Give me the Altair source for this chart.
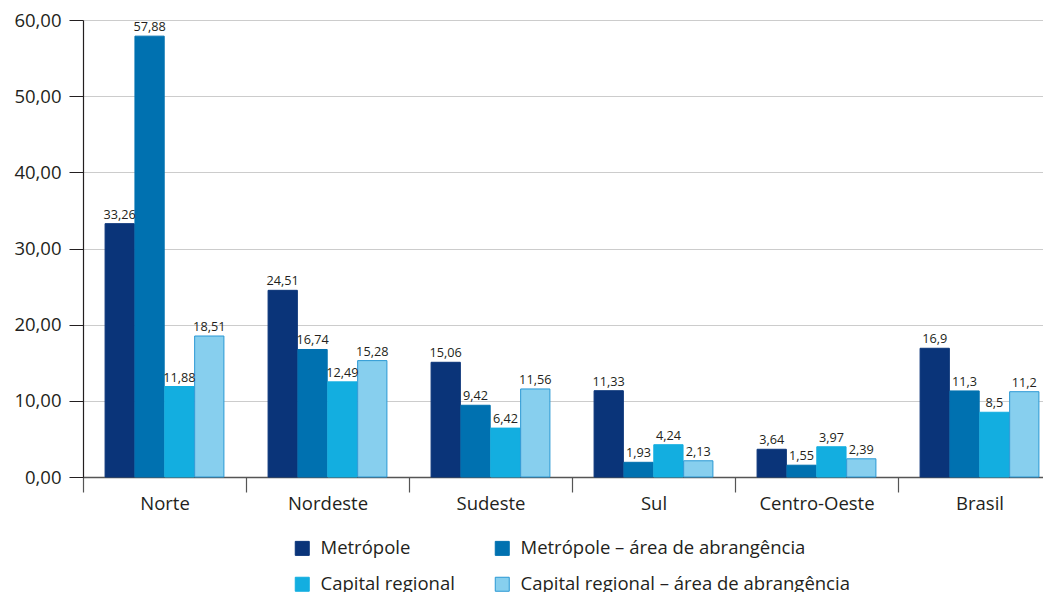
import altair as alt
import pandas as pd

regions = ["Norte", "Nordeste", "Sudeste", "Sul", "Centro-Oeste", "Brasil"]
series = ["Metrópole", "Metrópole – área de abrangência",
          "Capital regional", "Capital regional – área de abrangência"]
metropole = [33.26, 24.51, 15.06, 11.33, 3.64, 16.9]
metropole_area = [57.88, 16.74, 9.42, 1.93, 1.55, 11.3]
capital = [11.88, 12.49, 6.42, 4.24, 3.97, 8.5]
capital_area = [18.51, 15.28, 11.56, 2.13, 2.39, 11.2]
y_ticks = [0, 10, 20, 30, 40, 50, 60]

colors = ["#0a3479", "#0071b0", "#13aee0", "#87cfee"]
strokes = ["#0a3479", "#0071b0", "#13aee0", "#2a98d4"]

# legend is laid out column by column, so list the series in that order
legend_order = [series[0], series[2], series[1], series[3]]
legend_fill = [colors[0], colors[2], colors[1], colors[3]]
legend_stroke = [strokes[0], strokes[2], strokes[1], strokes[3]]

rows = []
for s, vals in zip(series, [metropole, metropole_area, capital, capital_area]):
    for r, v in zip(regions, vals):
        rows.append({"regiao": r, "serie": s, "valor": v,
                     "rotulo": str(v).replace(".", ",")})
df = pd.DataFrame(rows)

FONT = "Open Sans"
TXT = "#231f20"
FS = 18.5

base = alt.Chart(df).encode(
    x=alt.X("regiao:N", sort=regions, title=None,
            scale=alt.Scale(paddingInner=0, paddingOuter=0, range=[0, 978]),
            axis=alt.Axis(labelAngle=0, labelFontSize=FS, labelColor=TXT,
                          labelFont=FONT, tickSize=15, tickBand="extent",
                          tickColor="#555", domainColor="#555", labelPadding=2,
                          tickWidth=1.2, domainWidth=1.5)),
    xOffset=alt.XOffset("serie:N", sort=series,
                        scale=alt.Scale(paddingInner=0.02, paddingOuter=0.74)),
    y=alt.Y("valor:Q", title=None,
            scale=alt.Scale(domain=[0, 60], nice=False),
            axis=alt.Axis(values=y_ticks, labelFontSize=FS, labelColor=TXT,
                          labelFont=FONT, tickSize=14, labelPadding=8,
                          tickColor="#231f20", domainColor="#231f20",
                          gridColor="#cccccc", domainWidth=1.2,
                          labelExpr="replace(format(datum.value, '.2f'), '.', ',')")),
)

legend = alt.Legend(title=None, orient="none", legendX=210, legendY=519,
                    columns=2, columnPadding=38, rowPadding=17,
                    symbolType="square", symbolSize=196, symbolStrokeWidth=1,
                    labelFontSize=FS, labelFont=FONT, labelColor=TXT,
                    labelOffset=9, labelLimit=0)

bars = base.mark_bar(strokeWidth=1).encode(
    fill=alt.Fill("serie:N",
                  scale=alt.Scale(domain=legend_order, range=legend_fill),
                  legend=legend),
    stroke=alt.Stroke("serie:N",
                      scale=alt.Scale(domain=legend_order, range=legend_stroke),
                      legend=legend),
)

labels = base.mark_text(baseline="bottom", dy=-2, fontSize=12.7,
                        font=FONT, color=TXT).encode(text="rotulo:N")

chart = alt.layer(bars, labels).properties(
    width=960, height=457,
    autosize=alt.AutoSizeParams(type="none"),
    padding={"left": 75, "top": 12, "right": 0, "bottom": 115},
).configure_view(stroke=None).configure_axisY(gridWidth=1)

chart.save("out.html", embed_options={"renderer": "svg", "actions": False})
